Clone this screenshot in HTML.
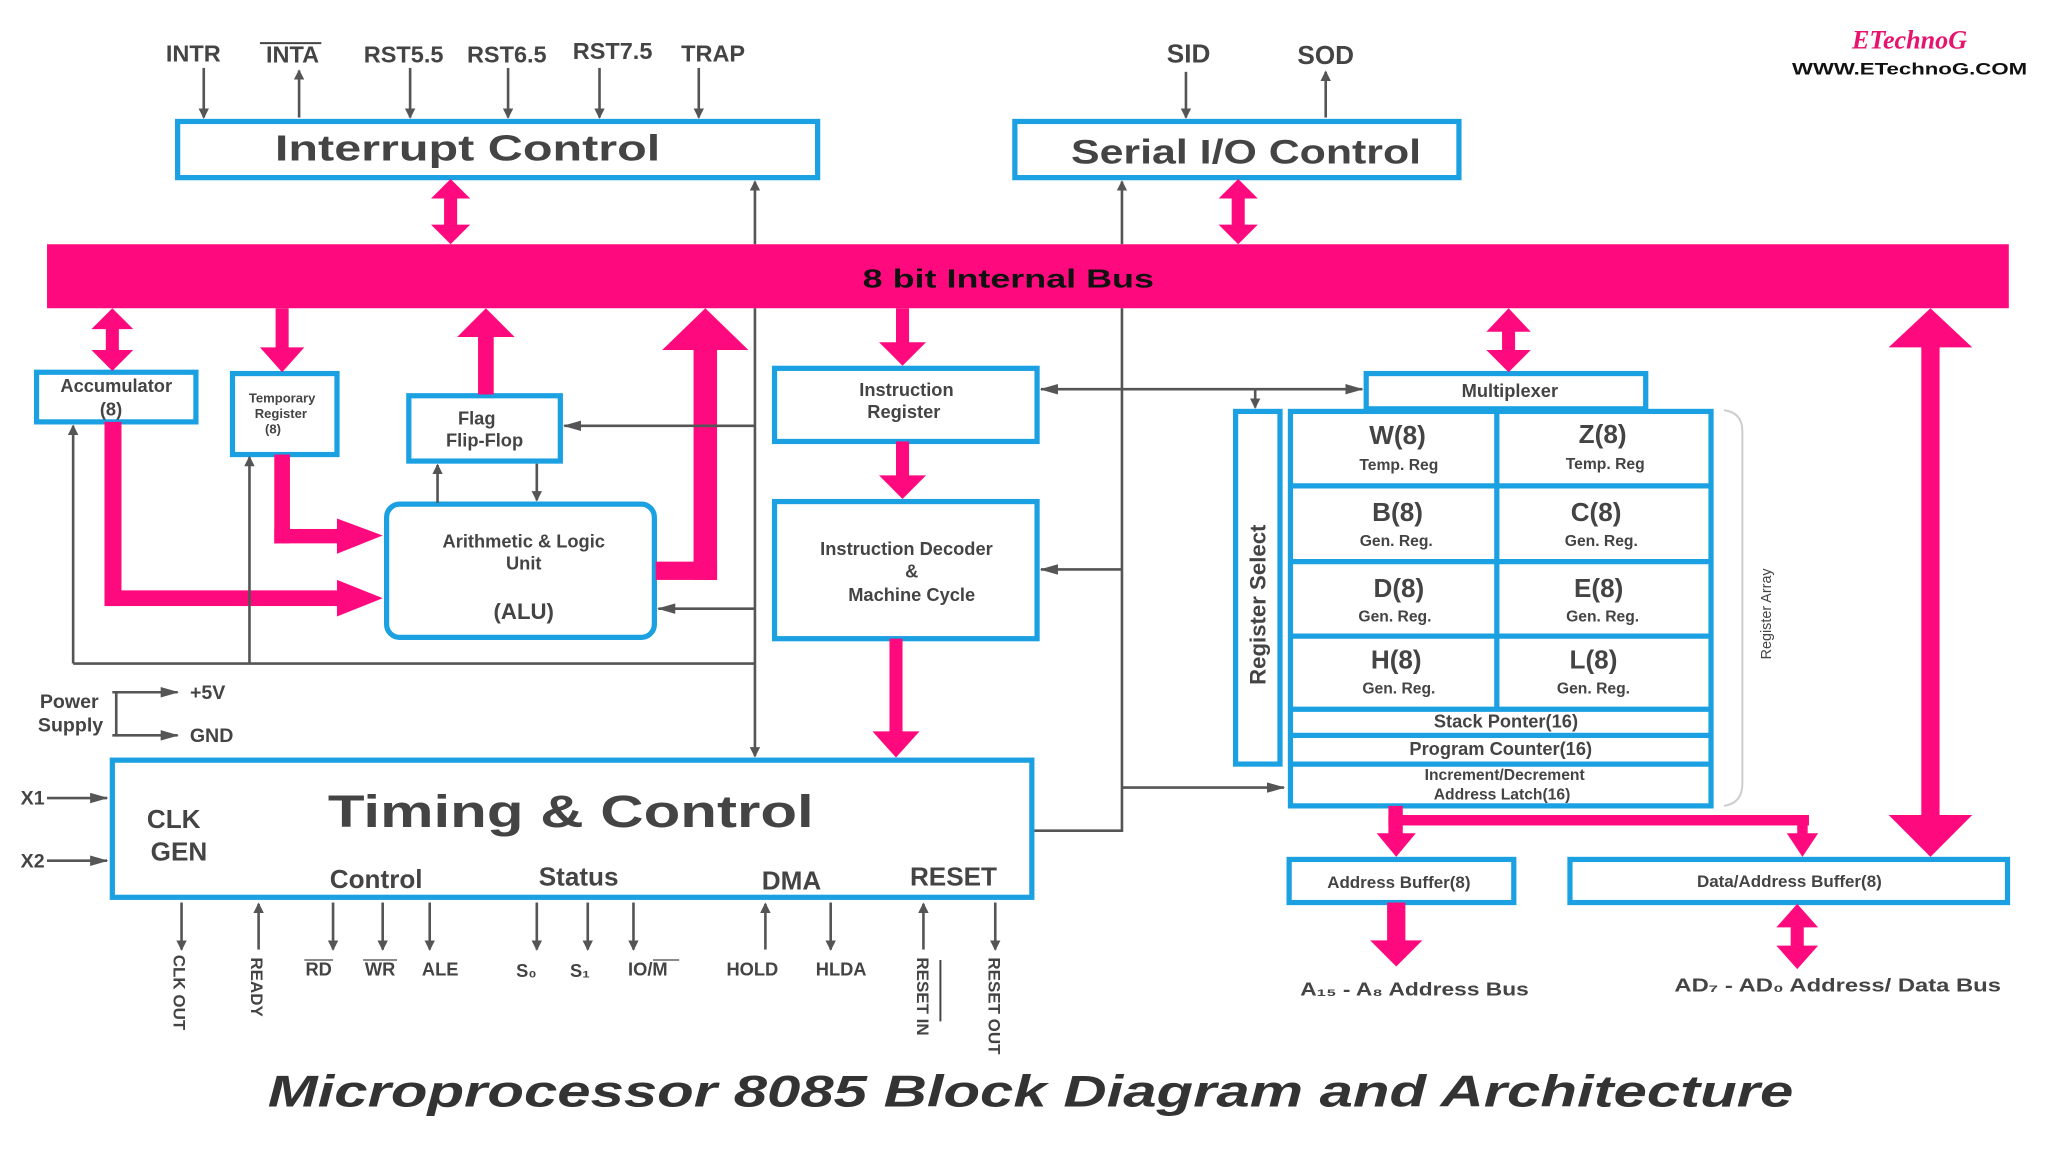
<!DOCTYPE html>
<html><head><meta charset="utf-8"><style>
html,body{margin:0;padding:0;background:#fff;width:2048px;height:1152px;overflow:hidden}
svg{display:block}
text{font-family:"Liberation Sans",sans-serif;fill:#444;font-weight:bold}
</style></head><body>
<svg width="2048" height="1152" viewBox="0 0 1568 882" preserveAspectRatio="none" xmlns="http://www.w3.org/2000/svg">
<defs>
<marker id="ga" markerWidth="8" markerHeight="8" refX="7" refY="4" orient="auto" markerUnits="userSpaceOnUse"><path d="M0,0 L8,4 L0,8 Z" fill="#555"/></marker>
<marker id="gas" markerWidth="14" markerHeight="8" refX="13" refY="4" orient="auto" markerUnits="userSpaceOnUse"><path d="M0,0 L14,4 L0,8 Z" fill="#555"/></marker>
</defs>
<rect width="1568" height="882" fill="#fff"/>
<g fill="none" stroke="#1ba1e2" stroke-width="4">
<rect x="136" y="93" width="490" height="43"/>
<rect x="777" y="93" width="340" height="43"/>
<rect x="28" y="285" width="122" height="38"/>
<rect x="178" y="286" width="80" height="62"/>
<rect x="313" y="303" width="116" height="50"/>
<rect x="296" y="386" width="205" height="102" rx="10"/>
<rect x="593" y="282" width="201" height="56"/>
<rect x="593" y="384" width="201" height="105"/>
<rect x="1046" y="286" width="214" height="27"/>
<rect x="946" y="315" width="34" height="270"/>
<rect x="988" y="315" width="322" height="302"/>
<line x1="1146" y1="315" x2="1146" y2="543"/>
<line x1="988" y1="372" x2="1310" y2="372"/>
<line x1="988" y1="430" x2="1310" y2="430"/>
<line x1="988" y1="487" x2="1310" y2="487"/>
<line x1="988" y1="543" x2="1310" y2="543"/>
<line x1="988" y1="563" x2="1310" y2="563"/>
<line x1="988" y1="585" x2="1310" y2="585"/>
<rect x="987" y="658" width="172" height="33"/>
<rect x="1202" y="658" width="335" height="33"/>
<rect x="86" y="582" width="704" height="105"/>
</g>
<path d="M1320,314 Q1334,316 1334,330 L1334,600 Q1334,615 1320,617" fill="none" stroke="#ccc" stroke-width="1.5"/>
<rect x="36" y="187" width="1502" height="49" fill="#ff0a7e"/>
<text x="772" y="220" font-size="20" text-anchor="middle" textLength="223" lengthAdjust="spacingAndGlyphs" style="fill:#111">8 bit Internal Bus</text>
<g fill="#ff0a7e" stroke="none">
<rect x="340" y="150" width="10" height="24"/><path d="M330,152 L345,137 L360,152Z M330,172 L345,187 L360,172Z"/>
<rect x="943" y="150" width="10" height="24"/><path d="M933,152 L948,137 L963,152Z M933,172 L948,187 L963,172Z"/>
<rect x="81" y="248" width="10" height="24"/><path d="M70,252 L86,236 L102,252Z M70,268 L86,284 L102,268Z"/>
<rect x="211" y="236" width="10" height="32"/><path d="M199,266 L216,285 L233,266Z"/>
<rect x="366" y="255" width="12" height="47"/><path d="M350,258 L372,236 L394,258Z"/>
<rect x="531" y="262" width="18" height="182"/><rect x="502" y="430" width="47" height="14"/><path d="M507,268 L540,236 L573,268Z"/>
<rect x="686" y="236" width="10" height="28"/><path d="M673,262 L691,280 L709,262Z"/>
<rect x="1150" y="250" width="10" height="22"/><path d="M1138,254 L1155,236 L1172,254Z M1138,268 L1155,285 L1172,268Z"/>
<rect x="1471" y="262" width="14" height="366"/><path d="M1446,266 L1478,236 L1510,266Z M1446,624 L1478,656 L1510,624Z"/>
<rect x="686" y="338" width="10" height="28"/><path d="M673,364 L691,382 L709,364Z"/>
<rect x="681" y="489" width="10" height="74"/><path d="M668,560 L686,580 L704,560Z"/>
<rect x="80" y="323" width="13" height="141"/><rect x="80" y="452" width="180" height="12"/><path d="M258,444 L293,458 L258,472Z"/>
<rect x="210" y="348" width="12" height="68"/><rect x="210" y="405" width="50" height="11"/><path d="M258,397 L293,410 L258,424Z"/>
<rect x="1063" y="617" width="11" height="24"/><path d="M1054,638 L1069,656 L1084,638Z"/>
<rect x="1063" y="624" width="322" height="8"/><rect x="1376" y="624" width="8" height="16"/><path d="M1368,638 L1380,656 L1392,638Z"/>
<rect x="1062" y="691" width="14" height="32"/><path d="M1049,720 L1069,740 L1089,720Z"/>
<rect x="1371" y="706" width="10" height="22"/><path d="M1360,710 L1376,692 L1392,710Z M1360,724 L1376,742 L1392,724Z"/>
</g>
<g stroke="#555" stroke-width="2" fill="none">
<line x1="156" y1="52" x2="156" y2="90" marker-end="url(#ga)"/>
<line x1="229" y1="90" x2="229" y2="54" marker-end="url(#ga)"/>
<line x1="314" y1="52" x2="314" y2="90" marker-end="url(#ga)"/>
<line x1="389" y1="52" x2="389" y2="90" marker-end="url(#ga)"/>
<line x1="459" y1="52" x2="459" y2="90" marker-end="url(#ga)"/>
<line x1="535" y1="52" x2="535" y2="90" marker-end="url(#ga)"/>
<line x1="908" y1="55" x2="908" y2="90" marker-end="url(#ga)"/>
<line x1="1015" y1="90" x2="1015" y2="55" marker-end="url(#ga)"/>
<line x1="578" y1="187" x2="578" y2="139" marker-end="url(#ga)"/>
<line x1="578" y1="236" x2="578" y2="579" marker-end="url(#ga)"/>
<line x1="859" y1="187" x2="859" y2="139" marker-end="url(#ga)"/>
<polyline points="859,236 859,636 792,636"/>
<line x1="578" y1="326" x2="432" y2="326" marker-end="url(#gas)"/>
<line x1="578" y1="466" x2="504" y2="466" marker-end="url(#gas)"/>
<line x1="335" y1="385" x2="335" y2="356" marker-end="url(#ga)"/>
<line x1="411" y1="355" x2="411" y2="383" marker-end="url(#ga)"/>
<line x1="56" y1="508" x2="578" y2="508"/>
<line x1="56" y1="508" x2="56" y2="326" marker-end="url(#ga)"/>
<line x1="191" y1="508" x2="191" y2="350" marker-end="url(#ga)"/>
<line x1="859" y1="436" x2="797" y2="436" marker-end="url(#gas)"/>
<line x1="900" y1="298" x2="797" y2="298" marker-end="url(#gas)"/>
<line x1="900" y1="298" x2="1043" y2="298" marker-end="url(#gas)"/>
<line x1="961" y1="298" x2="961" y2="312" marker-end="url(#ga)"/>
<line x1="859" y1="603" x2="983" y2="603" marker-end="url(#gas)"/>
<line x1="36" y1="611" x2="82" y2="611" marker-end="url(#gas)"/>
<line x1="36" y1="659" x2="82" y2="659" marker-end="url(#gas)"/>
<polyline points="86,530 89,530 89,563 86,563"/>
<line x1="89" y1="530" x2="136" y2="530" marker-end="url(#gas)"/>
<line x1="89" y1="563" x2="136" y2="563" marker-end="url(#gas)"/>
<line x1="139" y1="691" x2="139" y2="727" marker-end="url(#ga)"/>
<line x1="198" y1="727" x2="198" y2="692" marker-end="url(#ga)"/>
<line x1="255" y1="691" x2="255" y2="727" marker-end="url(#ga)"/>
<line x1="293" y1="691" x2="293" y2="727" marker-end="url(#ga)"/>
<line x1="329" y1="691" x2="329" y2="727" marker-end="url(#ga)"/>
<line x1="411" y1="691" x2="411" y2="727" marker-end="url(#ga)"/>
<line x1="450" y1="691" x2="450" y2="727" marker-end="url(#ga)"/>
<line x1="485" y1="691" x2="485" y2="727" marker-end="url(#ga)"/>
<line x1="586" y1="727" x2="586" y2="692" marker-end="url(#ga)"/>
<line x1="636" y1="691" x2="636" y2="727" marker-end="url(#ga)"/>
<line x1="707" y1="727" x2="707" y2="692" marker-end="url(#ga)"/>
<line x1="762" y1="691" x2="762" y2="727" marker-end="url(#ga)"/>
</g>
<g font-size="18" text-anchor="middle">
<text x="148" y="47">INTR</text>
<text x="224" y="48">INTA</text><line x1="199" y1="33" x2="246" y2="33" stroke="#444" stroke-width="1.5"/>
<text x="309" y="48">RST5.5</text>
<text x="388" y="48">RST6.5</text>
<text x="469" y="45">RST7.5</text>
<text x="546" y="47">TRAP</text>
<text x="910" y="48" font-size="20">SID</text>
<text x="1015" y="49" font-size="20">SOD</text>
</g>
<text x="358" y="123" font-size="28" text-anchor="middle" textLength="295" lengthAdjust="spacingAndGlyphs">Interrupt Control</text>
<text x="954" y="125" font-size="26" text-anchor="middle" textLength="268" lengthAdjust="spacingAndGlyphs">Serial I/O Control</text>
<text x="1462" y="37" font-size="20" text-anchor="middle" font-style="italic" style="fill:#e6136f;font-family:'Liberation Serif',serif">ETechnoG</text>
<text x="1462" y="57" font-size="13" text-anchor="middle" textLength="180" lengthAdjust="spacingAndGlyphs" style="fill:#111">WWW.ETechnoG.COM</text>
<g text-anchor="middle" font-size="14">
<text x="89" y="300">Accumulator</text><text x="85" y="318">(8)</text>
<text x="216" y="308" font-size="10">Temporary</text><text x="215" y="320" font-size="10">Register</text><text x="209" y="332" font-size="10">(8)</text>
<text x="365" y="325">Flag</text><text x="371" y="342">Flip-Flop</text>
<text x="401" y="419">Arithmetic &amp; Logic</text><text x="401" y="436">Unit</text><text x="401" y="474" font-size="17">(ALU)</text>
<text x="694" y="303">Instruction</text><text x="692" y="320">Register</text>
<text x="694" y="425">Instruction Decoder</text><text x="698" y="442">&amp;</text><text x="698" y="460">Machine Cycle</text>
<text x="1156" y="304">Multiplexer</text>
<text x="1070" y="340" font-size="20">W(8)</text><text x="1071" y="360" font-size="12">Temp. Reg</text>
<text x="1227" y="339" font-size="20">Z(8)</text><text x="1229" y="359" font-size="12">Temp. Reg</text>
<text x="1070" y="399" font-size="20">B(8)</text><text x="1069" y="418" font-size="12">Gen. Reg.</text>
<text x="1222" y="399" font-size="20">C(8)</text><text x="1226" y="418" font-size="12">Gen. Reg.</text>
<text x="1071" y="457" font-size="20">D(8)</text><text x="1068" y="476" font-size="12">Gen. Reg.</text>
<text x="1224" y="457" font-size="20">E(8)</text><text x="1227" y="476" font-size="12">Gen. Reg.</text>
<text x="1069" y="512" font-size="20">H(8)</text><text x="1071" y="531" font-size="12">Gen. Reg.</text>
<text x="1220" y="512" font-size="20">L(8)</text><text x="1220" y="531" font-size="12">Gen. Reg.</text>
<text x="1153" y="557">Stack Ponter(16)</text>
<text x="1149" y="578">Program Counter(16)</text>
<text x="1152" y="597" font-size="12">Increment/Decrement</text><text x="1150" y="612" font-size="12">Address Latch(16)</text>
<text x="1071" y="680" font-size="13">Address Buffer(8)</text>
<text x="1370" y="679" font-size="13">Data/Address Buffer(8)</text>
<text x="1083" y="762" textLength="175" lengthAdjust="spacingAndGlyphs">A₁₅ - A₈ Address Bus</text>
<text x="1407" y="759" textLength="250" lengthAdjust="spacingAndGlyphs">AD₇ - AD₀ Address/ Data Bus</text>
</g>
<text transform="translate(969,463) rotate(-90)" font-size="17" text-anchor="middle">Register Select</text>
<text transform="translate(1356,470) rotate(-90)" font-size="11" text-anchor="middle" style="font-weight:normal">Register Array</text>
<g font-size="15" text-anchor="middle">
<text x="53" y="542">Power</text><text x="54" y="560">Supply</text>
<text x="159" y="535">+5V</text><text x="162" y="568">GND</text>
<text x="25" y="616">X1</text><text x="25" y="664">X2</text>
</g>
<text x="133" y="634" font-size="20" text-anchor="middle">CLK</text>
<text x="137" y="659" font-size="20" text-anchor="middle">GEN</text>
<text x="437" y="633" font-size="35" text-anchor="middle" textLength="372" lengthAdjust="spacingAndGlyphs">Timing &amp; Control</text>
<g font-size="20" text-anchor="middle">
<text x="288" y="680">Control</text><text x="443" y="678">Status</text><text x="606" y="681">DMA</text><text x="730" y="678">RESET</text>
</g>
<g font-size="14" text-anchor="middle">
<text x="244" y="747">RD</text><line x1="233" y1="735" x2="255" y2="735" stroke="#444"/>
<text x="291" y="747">WR</text><line x1="278" y1="735" x2="304" y2="735" stroke="#444"/>
<text x="337" y="747">ALE</text>
<text x="403" y="748">S₀</text><text x="444" y="748">S₁</text>
<text x="496" y="747">IO/M</text><line x1="500" y1="735" x2="520" y2="735" stroke="#444"/>
<text x="576" y="747">HOLD</text><text x="644" y="747">HLDA</text>
</g>
<g font-size="13">
<text transform="translate(133,731) rotate(90)">CLK OUT</text>
<text transform="translate(192,733) rotate(90)">READY</text>
<text transform="translate(702,733) rotate(90)">RESET IN</text>
<text transform="translate(757,733) rotate(90)">RESET OUT</text>
</g>
<line x1="720" y1="735" x2="720" y2="782" stroke="#444" stroke-width="1.5"/>
<text x="789" y="847" font-size="34" text-anchor="middle" font-style="italic" textLength="1168" lengthAdjust="spacingAndGlyphs" style="fill:#333">Microprocessor 8085 Block Diagram and Architecture</text>
</svg>
</body></html>
